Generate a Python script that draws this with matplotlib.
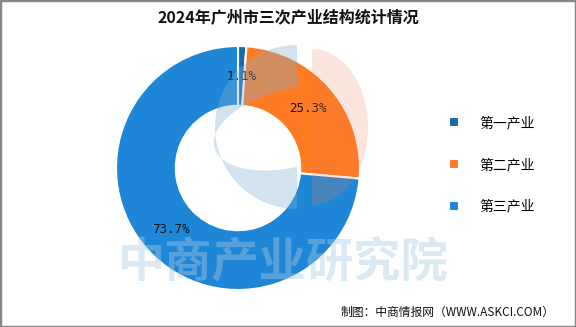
import numpy as np
import matplotlib
matplotlib.use('Agg')
import matplotlib.pyplot as plt
from matplotlib.path import Path
from matplotlib.patches import PathPatch, Rectangle

plt.rcParams['font.family'] = ['Noto Sans CJK SC', 'DejaVu Sans']

# data
industries = ['第一产业', '第二产业', '第三产业']
shares = [1.1, 25.3, 73.7]
colors = ['#1a69ae', '#fe7b23', '#1e86d7']
title = '2024年广州市三次产业结构统计情况'
source = '制图：中商情报网（WWW.ASKCI.COM）'

W, H = 576, 327
fig = plt.figure(figsize=(W / 100, H / 100), dpi=100)

# donut, center (238,168) px, radius 122 px
cx, cy, r = 238, 168, 122
ax = fig.add_axes([(cx - r) / W, (H - cy - r) / H, 2 * r / W, 2 * r / H])
total = sum(shares)
wedges, texts, autotexts = ax.pie(
    shares, colors=colors, startangle=90, counterclock=False, radius=1,
    autopct=lambda p: '%.1f%%' % (p * total / 100), pctdistance=0.75,
    wedgeprops=dict(width=0.49, edgecolor='white', linewidth=1.5),
    textprops=dict(fontsize=9, family='DejaVu Sans Mono', color='#111111'))
ax.set_xlim(-1, 1)
ax.set_ylim(-1, 1)
ax.axis('off')

# watermark overlay (pixel coords)
wm = fig.add_axes([0, 0, 1, 1], zorder=5)
wm.set_xlim(0, W)
wm.set_ylim(H, 0)
wm.axis('off')

# light blue crescent of the logo
t = np.linspace(np.pi / 2, 3 * np.pi / 2, 80)
ox, oy, orad = 297, 127, 82
outer = np.column_stack([ox + orad * np.cos(t), oy - orad * np.sin(t)])
outer = np.vstack([outer, outer[:1]])
s = np.linspace(0, 2 * np.pi, 100)
hx = 80 * np.cos(s)
hy = 39 * np.sin(s)
ang = np.deg2rad(-14)
hole = np.column_stack([292 + hx * np.cos(ang) - hy * np.sin(ang),
                        128 + hx * np.sin(ang) + hy * np.cos(ang)])
hole[:, 0] = np.minimum(hole[:, 0], ox)
hole = np.vstack([hole, hole[:1]])
verts = np.vstack([outer, hole])
codes = ([Path.MOVETO] + [Path.LINETO] * (len(outer) - 2) + [Path.CLOSEPOLY] +
         [Path.MOVETO] + [Path.LINETO] * (len(hole) - 2) + [Path.CLOSEPOLY])
wm.add_patch(PathPatch(Path(verts, codes), facecolor='#7fb0d3', alpha=0.35,
                       edgecolor='none'))

# light orange half of the logo
t2 = np.linspace(-np.pi / 2, np.pi / 2, 60)
half = np.column_stack([312 + 56 * np.cos(t2), 127 - 78 * np.sin(t2)])
wm.add_patch(plt.Polygon(half, closed=True, facecolor='#f08050', alpha=0.2,
                         edgecolor='none'))

wm.text(283, 262, '中商产业研究院', fontsize=34, fontweight='bold',
        color='#a9cbe2', alpha=0.42, ha='center', va='center')

# title and source
fig.text(0.5, 1 - 17 / H, title, ha='center', va='center', fontsize=11.5,
         fontweight='bold', color='#111111')
fig.text(555 / W, 1 - 312 / H, source, ha='right', va='center', fontsize=8.5,
         color='#111111')

# legend
fig.legend(wedges, industries, loc='center left',
           bbox_to_anchor=(449 / W, 1 - 165 / H), frameon=False,
           fontsize=10, handlelength=0.75, handleheight=0.75,
           handletextpad=1.4, labelspacing=2.0, borderpad=0,
           borderaxespad=0)

# frame around the picture
fig.patches.append(Rectangle((0, 0), 1, 1, transform=fig.transFigure,
                             fill=False, edgecolor='#888888', linewidth=2.5))

fig.savefig('out.png', dpi=100)
